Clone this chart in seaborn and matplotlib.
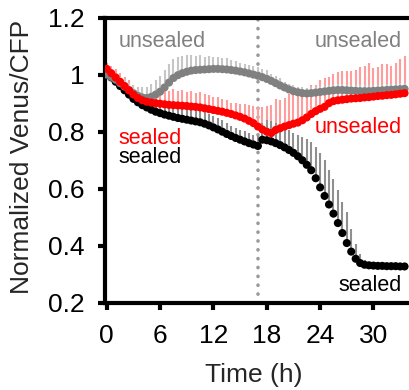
import numpy as np
import pandas as pd
import matplotlib
matplotlib.use("Agg")
import matplotlib.pyplot as plt
import seaborn as sns

# time points (h), every 0.5 h from 0 to 33.5
time_h = [i * 0.5 for i in range(68)]

sealed_sealed = [
    1.00, 0.99, 0.975, 0.96, 0.945, 0.93, 0.915, 0.903, 0.893, 0.885,
    0.877, 0.87, 0.865, 0.86, 0.856, 0.852, 0.848, 0.845, 0.842, 0.839,
    0.836, 0.833, 0.828, 0.822, 0.815, 0.808, 0.80, 0.792, 0.785, 0.778,
    0.772, 0.766, 0.76, 0.755, 0.75, 0.772, 0.77, 0.766, 0.76, 0.753,
    0.745, 0.736, 0.726, 0.714, 0.70, 0.684, 0.665, 0.637, 0.605, 0.575,
    0.545, 0.513, 0.48, 0.445, 0.41, 0.38, 0.355, 0.34, 0.334, 0.332,
    0.331, 0.33, 0.33, 0.329, 0.329, 0.329, 0.328, 0.328]
sealed_sealed_err = [
    0.01, 0.015, 0.02, 0.02, 0.025, 0.025, 0.03, 0.03, 0.03, 0.03,
    0.03, 0.035, 0.035, 0.04, 0.04, 0.04, 0.04, 0.04, 0.04, 0.04,
    0.04, 0.04, 0.04, 0.04, 0.04, 0.04, 0.04, 0.04, 0.035, 0.035,
    0.035, 0.035, 0.035, 0.035, 0.035, 0.06, 0.07, 0.07, 0.07, 0.07,
    0.07, 0.07, 0.07, 0.075, 0.08, 0.09, 0.10, 0.11, 0.12, 0.125,
    0.12, 0.12, 0.115, 0.11, 0.11, 0.08, 0.05, 0.03, 0.015, 0.01,
    0.01, 0.01, 0.01, 0.01, 0.01, 0.01, 0.01, 0.01]

sealed_unsealed = [
    1.02, 1.005, 0.99, 0.975, 0.96, 0.945, 0.93, 0.918, 0.91, 0.905,
    0.902, 0.90, 0.898, 0.896, 0.894, 0.893, 0.892, 0.891, 0.89, 0.888,
    0.887, 0.885, 0.882, 0.879, 0.876, 0.873, 0.87, 0.866, 0.862, 0.857,
    0.852, 0.846, 0.838, 0.83, 0.818, 0.808, 0.80, 0.795, 0.806, 0.812,
    0.818, 0.823, 0.828, 0.832, 0.84, 0.85, 0.862, 0.872, 0.88, 0.887,
    0.90, 0.907, 0.91, 0.912, 0.914, 0.916, 0.917, 0.918, 0.92, 0.921,
    0.923, 0.925, 0.926, 0.928, 0.929, 0.931, 0.933, 0.935]
sealed_unsealed_err = [
    0.02, 0.025, 0.03, 0.03, 0.03, 0.035, 0.035, 0.04, 0.04, 0.04,
    0.045, 0.05, 0.05, 0.05, 0.05, 0.055, 0.05, 0.055, 0.05, 0.055,
    0.05, 0.055, 0.05, 0.05, 0.045, 0.05, 0.045, 0.045, 0.04, 0.045,
    0.045, 0.05, 0.055, 0.06, 0.07, 0.08, 0.09, 0.10, 0.11, 0.10,
    0.10, 0.11, 0.10, 0.12, 0.10, 0.09, 0.10, 0.09, 0.10, 0.10,
    0.09, 0.095, 0.10, 0.10, 0.10, 0.095, 0.10, 0.11, 0.11, 0.12,
    0.10, 0.10, 0.11, 0.11, 0.10, 0.11, 0.12, 0.13]

unsealed_unsealed = [
    1.00, 0.992, 0.982, 0.97, 0.958, 0.946, 0.935, 0.926, 0.92, 0.918,
    0.922, 0.93, 0.94, 0.955, 0.972, 0.988, 0.998, 1.005, 1.01, 1.014,
    1.016, 1.017, 1.018, 1.019, 1.02, 1.02, 1.019, 1.018, 1.016, 1.014,
    1.011, 1.008, 1.004, 1.00, 0.996, 0.991, 0.985, 0.978, 0.97, 0.962,
    0.955, 0.948, 0.942, 0.938, 0.935, 0.934, 0.935, 0.937, 0.939, 0.941,
    0.943, 0.945, 0.946, 0.946, 0.945, 0.944, 0.943, 0.942, 0.942, 0.942,
    0.943, 0.944, 0.945, 0.946, 0.947, 0.948, 0.949, 0.95]
unsealed_unsealed_err = [
    0.01, 0.015, 0.02, 0.02, 0.025, 0.025, 0.03, 0.03, 0.035, 0.04,
    0.045, 0.05, 0.055, 0.06, 0.065, 0.065, 0.065, 0.06, 0.06, 0.055,
    0.05, 0.05, 0.045, 0.045, 0.04, 0.04, 0.04, 0.04, 0.035, 0.035,
    0.03, 0.03, 0.03, 0.03, 0.03, 0.03, 0.03, 0.025, 0.025, 0.025,
    0.02, 0.02, 0.02, 0.02, 0.02, 0.02, 0.02, 0.02, 0.02, 0.02,
    0.02, 0.02, 0.02, 0.02, 0.02, 0.02, 0.02, 0.02, 0.02, 0.02,
    0.02, 0.02, 0.02, 0.02, 0.02, 0.02, 0.02, 0.02]

x_ticks = [0, 6, 12, 18, 24, 30]
y_ticks = [0.2, 0.4, 0.6, 0.8, 1.0, 1.2]
y_tick_labels = ["0.2", "0.4", "0.6", "0.8", "1", "1.2"]
switch_time = 17

sns.set_style("ticks")
plt.rcParams["font.family"] = ["Liberation Sans", "DejaVu Sans"]

fig = plt.figure(figsize=(4.09, 3.90), dpi=100)
ax = fig.add_axes([105 / 409, 1 - 303 / 390, 1 - 105 / 409, (303 - 17.5) / 390])

series = [
    ("sealed-sealed", sealed_sealed, sealed_sealed_err, "#000000", "#8f8f8f"),
    ("unsealed-unsealed", unsealed_unsealed, unsealed_unsealed_err, "#808080", "#c6c6c6"),
    ("sealed-unsealed", sealed_unsealed, sealed_unsealed_err, "#ff0000", "#ff9c9c"),
]

frames = []
for name, vals, errs, _, _ in series:
    frames.append(pd.DataFrame({"t": time_h, "v": vals, "e": errs, "cond": name}))
df = pd.concat(frames, ignore_index=True)

# error bars (upper only)
for name, vals, errs, col, ecol in [series[2], series[1], series[0]]:
    d = df[df.cond == name]
    ax.vlines(d.t, d.v, d.v + d.e, color=ecol, lw=1.5, zorder=2)

ax.axvline(switch_time, color="#9a9a9a", ls=(0, (0.05, 2.4)), lw=2.6,
           dash_capstyle="round", zorder=1)

for name, vals, errs, col, ecol in series:
    d = df[df.cond == name]
    sns.scatterplot(data=d, x="t", y="v", color=col, s=34, edgecolor="none",
                    ax=ax, zorder=3, legend=False)

ax.set_xlim(-0.2, 34.0)
ax.set_ylim(0.2, 1.2)
ax.set_xticks(x_ticks)
ax.set_xticklabels([str(v) for v in x_ticks])
ax.set_yticks(y_ticks)
ax.set_yticklabels(y_tick_labels)

for s in ["left", "bottom", "top"]:
    ax.spines[s].set_linewidth(3)
    ax.spines[s].set_color("black")
ax.spines["right"].set_visible(False)
ax.tick_params(direction="out", length=5, width=3, labelsize=19, pad=10,
               colors="black")

ax.set_xlabel("Time (h)", fontsize=19)
ax.set_ylabel("Normalized Venus/CFP", fontsize=19)
ax.xaxis.set_label_coords(0.49, -0.21)
ax.yaxis.set_label_coords(-0.235, 0.513)

fs = 15.5
ax.text(1.3, 1.097, "unsealed", color="#808080", fontsize=fs, va="baseline", ha="left")
ax.text(33.2, 1.097, "unsealed", color="#808080", fontsize=fs, va="baseline", ha="right")
ax.text(33.2, 0.795, "unsealed", color="#ff0000", fontsize=fs, va="baseline", ha="right")
ax.text(1.3, 0.757, "sealed", color="#ff0000", fontsize=fs, va="baseline", ha="left")
ax.text(1.3, 0.69, "sealed", color="#000000", fontsize=fs, va="baseline", ha="left")
ax.text(33.2, 0.242, "sealed", color="#000000", fontsize=fs, va="baseline", ha="right")

ax.set_facecolor("white")
fig.savefig("out.png", dpi=100, facecolor="white")
